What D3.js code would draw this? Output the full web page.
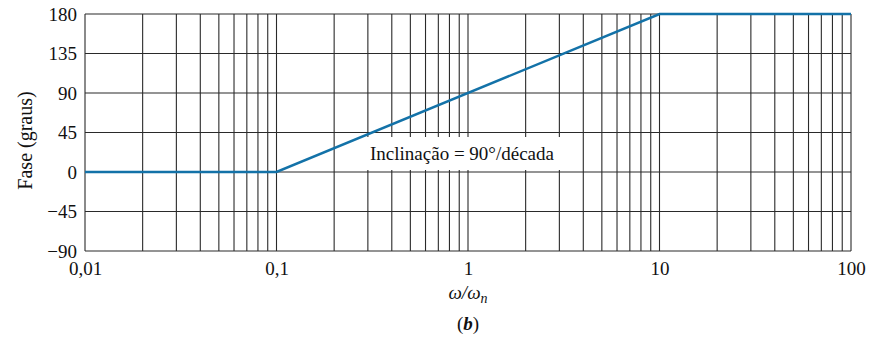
<!DOCTYPE html>
<html>
<head>
<meta charset="utf-8">
<script src="https://cdn.jsdelivr.net/npm/d3@7"></script>
<style>
  html, body { margin: 0; padding: 0; background: #fff; }
  svg text { font-family: "Liberation Serif", "Times New Roman", serif; fill: #111; }
</style>
</head>
<body>
<svg id="chart" width="878" height="339"></svg>
<script>
// Asymptotic phase plot of a second-order zero
const freqPoints = [0.01, 0.1, 10, 100];
const phaseValues = [0, 0, 180, 180];
const xTickValues = [0.01, 0.1, 1, 10, 100];
const xTickLabels = ["0,01", "0,1", "1", "10", "100"];
const yTickValues = [-90, -45, 0, 45, 90, 135, 180];
const yTickLabels = ["\u221290", "\u221245", "0", "45", "90", "135", "180"];
const slopeNote = "Inclinação = 90°/década";

const svg = d3.select("#chart");
const margin = { left: 85, right: 27, top: 14, bottom: 88 };
const width = 878, height = 339;

const x = d3.scaleLog().domain([0.01, 100]).range([margin.left, width - margin.right]);
const y = d3.scaleLinear().domain([-90, 180]).range([height - margin.bottom, margin.top]);

// minor + major vertical grid lines (1..9 per decade)
const gridX = [];
for (let e = -2; e < 2; e++) {
  for (let m = 1; m <= 9; m++) gridX.push(m * Math.pow(10, e));
}
gridX.push(100);

const g = svg.append("g");
g.selectAll("line.vx").data(gridX).enter().append("line")
  .attr("class", "vx")
  .attr("x1", d => x(d)).attr("x2", d => x(d))
  .attr("y1", y(-90)).attr("y2", y(180))
  .attr("stroke", "#2a2a2a").attr("stroke-width", 1.1);

g.selectAll("line.hy").data(yTickValues).enter().append("line")
  .attr("class", "hy")
  .attr("x1", x(0.01)).attr("x2", x(100))
  .attr("y1", d => y(d)).attr("y2", d => y(d))
  .attr("stroke", "#2a2a2a").attr("stroke-width", 1.1);

// Axes (labels only, grid forms the frame)
const xAxis = d3.axisBottom(x).tickValues(xTickValues)
  .tickFormat((d, i) => xTickLabels[i]).tickSize(0).tickPadding(11);
const xg = svg.append("g").attr("transform", `translate(0,${y(-90)})`).call(xAxis);
xg.select(".domain").remove();
xg.attr("font-size", null).attr("font-family", null);
xg.selectAll("text").style("font-size", "19px");

const yAxis = d3.axisLeft(y).tickValues(yTickValues)
  .tickFormat((d, i) => yTickLabels[i]).tickSize(0).tickPadding(8);
const yg = svg.append("g").attr("transform", `translate(${x(0.01)},0)`).call(yAxis);
yg.select(".domain").remove();
yg.attr("font-size", null).attr("font-family", null);
yg.selectAll("text").style("font-size", "19px");

// Phase curve
const pts = freqPoints.map((f, i) => [f, phaseValues[i]]);
svg.append("path")
  .datum(pts)
  .attr("fill", "none")
  .attr("stroke", "#1372a8")
  .attr("stroke-width", 2.5)
  .attr("d", d3.line().x(d => x(d[0])).y(d => y(d[1])));

// Slope annotation with a white backing box
const noteX = 462, noteY = 160;
svg.append("rect")
  .attr("x", 367).attr("y", 137)
  .attr("width", 195).attr("height", 33)
  .attr("fill", "#fff");
svg.append("text")
  .attr("x", noteX).attr("y", noteY)
  .attr("text-anchor", "middle")
  .style("font-size", "19px")
  .text(slopeNote);

// Axis titles
svg.append("text")
  .attr("transform", `translate(32,${(y(-90) + y(180)) / 2 + 8}) rotate(-90)`)
  .attr("text-anchor", "middle")
  .style("font-size", "20px")
  .text("Fase (graus)");

const xt = svg.append("text")
  .attr("x", x(1)).attr("y", 299)
  .attr("text-anchor", "middle")
  .style("font-size", "19px").style("font-style", "italic");
xt.append("tspan").text("ω/ω");
xt.append("tspan").attr("dy", 4).style("font-size", "14px").text("n");

const cap = svg.append("text")
  .attr("x", x(1)).attr("y", 330)
  .attr("text-anchor", "middle")
  .style("font-size", "19px");
cap.append("tspan").text("(");
cap.append("tspan").style("font-weight", "bold").style("font-style", "italic").text("b");
cap.append("tspan").text(")");
</script>
</body>
</html>
